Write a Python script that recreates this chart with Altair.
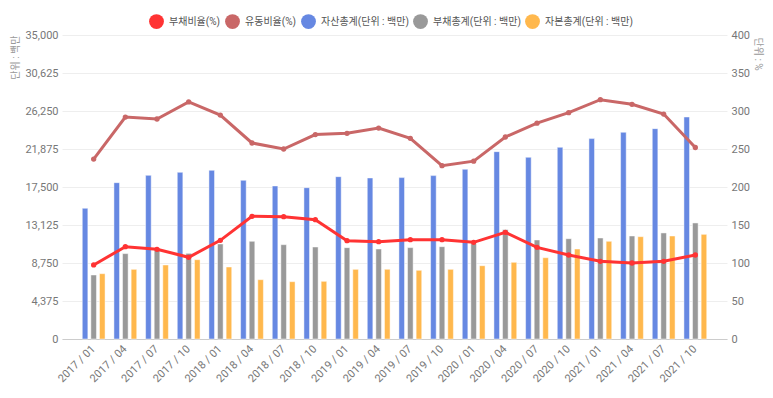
import altair as alt
import pandas as pd

periods = ["2017 / 01", "2017 / 04", "2017 / 07", "2017 / 10",
           "2018 / 01", "2018 / 04", "2018 / 07", "2018 / 10",
           "2019 / 01", "2019 / 04", "2019 / 07", "2019 / 10",
           "2020 / 01", "2020 / 04", "2020 / 07", "2020 / 10",
           "2021 / 01", "2021 / 04", "2021 / 07", "2021 / 10"]

assets = [15050, 18000, 18840, 19190, 19420, 18270, 17620, 17420, 18690, 18540,
          18580, 18810, 19540, 21570, 20920, 22070, 23070, 23800, 24220, 25560]
liabilities = [7370, 9830, 10210, 9860, 10940, 11250, 10860, 10590, 10520, 10360,
               10520, 10630, 10980, 12590, 11400, 11550, 11630, 11860, 12210, 13360]
equity = [7520, 8020, 8520, 9130, 8290, 6830, 6600, 6640, 8020, 8020,
          7910, 8020, 8440, 8830, 9360, 10360, 11250, 11780, 11860, 12050]

debt_ratio = [97.4, 121.5, 118, 107.5, 129.8, 161.4, 161, 157, 129.4, 128,
              130.7, 130.7, 127.2, 140.4, 120.6, 110.5, 102.2, 100, 102.2, 110.5]
current_ratio = [236.8, 292, 289.5, 312, 294.7, 257.9, 250, 269, 270.6, 277.6,
                 264, 228, 234, 265.8, 284, 297.8, 314.9, 308.8, 296, 252]

line_series = ["부채비율(%)", "유동비율(%)"]
bar_series = ["자산총계(단위 : 백만)", "부채총계(단위 : 백만)", "자본총계(단위 : 백만)"]
all_series = line_series + bar_series
colors = ["#ff3333", "#c96767", "#6688e2", "#999999", "#ffb84d"]

left_ticks = [0, 4375, 8750, 13125, 17500, 21875, 26250, 30625, 35000]
right_ticks = [0, 50, 100, 150, 200, 250, 300, 350, 400]

bar_rows = []
for name, vals in zip(bar_series, [assets, liabilities, equity]):
    for p, v in zip(periods, vals):
        bar_rows.append({"period": p, "series": name, "value": v})
bar_df = pd.DataFrame(bar_rows)

line_rows = []
for name, vals in zip(line_series, [debt_ratio, current_ratio]):
    for p, v in zip(periods, vals):
        line_rows.append({"period": p, "series": name, "value": v})
line_df = pd.DataFrame(line_rows)

color_scale = alt.Scale(domain=all_series, range=colors)
legend = alt.Legend(title=None, orient="none", direction="horizontal",
                    legendX=87, legendY=-21, symbolType="circle", symbolSize=220,
                    symbolStrokeWidth=0, symbolOpacity=1, labelFontSize=10,
                    labelColor="#555555", columnPadding=4, labelOffset=5,
                    values=all_series)

x_enc = alt.X("period:N", sort=periods,
              scale=alt.Scale(domain=periods, paddingInner=0.28, paddingOuter=0.64),
              axis=alt.Axis(title=None, labelAngle=-45, labelAlign="right",
                            labelBaseline="middle", labelFontSize=11,
                            labelColor="#777777", ticks=False, domainColor="#cccccc",
                            labelPadding=8, grid=False))

bars = alt.Chart(bar_df).mark_bar(stroke="white", strokeWidth=0.8, strokeOpacity=0.6).encode(
    x=x_enc,
    xOffset=alt.XOffset("series:N", sort=bar_series,
                        scale=alt.Scale(domain=bar_series, paddingInner=0.35, paddingOuter=0)),
    y=alt.Y("value:Q",
            scale=alt.Scale(domain=[0, 35000], nice=False),
            axis=alt.Axis(title="단위 : 백만", values=left_ticks, format=",d",
                          orient="left", ticks=False, domain=False,
                          gridColor="#eeeeee", labelFontSize=11, labelColor="#777777",
                          labelPadding=4,
                          titleFontSize=10, titleColor="#999999", titleFontWeight="normal",
                          titleAngle=-90, titleAlign="right", titleBaseline="middle",
                          titleX=-47, titleY=0)),
    color=alt.Color("series:N", scale=color_scale, legend=legend),
)

lines = alt.Chart(line_df).mark_line(
    strokeWidth=3, point=alt.OverlayMarkDef(size=28, filled=True, opacity=1)
).encode(
    x=alt.X("period:N", sort=periods),
    y=alt.Y("value:Q",
            scale=alt.Scale(domain=[0, 400], nice=False),
            axis=alt.Axis(title="단위 : %", values=right_ticks, orient="right",
                          ticks=False, domain=False, grid=False,
                          labelFontSize=11, labelColor="#777777", labelPadding=4,
                          titleFontSize=10, titleColor="#999999", titleFontWeight="normal",
                          titleAngle=90, titleAlign="left", titleBaseline="middle",
                          titleX=30, titleY=2)),
    color=alt.Color("series:N", scale=color_scale, legend=legend),
)

chart = alt.layer(bars, lines).resolve_scale(y="independent").properties(
    width=665, height=304,
    autosize=alt.AutoSizeParams(type="none"),
    padding={"left": 54, "top": 27, "right": 38, "bottom": 51},
).configure(
    font="Roboto, 'Noto Sans CJK KR', sans-serif",
).configure_view(stroke=None)

chart.save("out.html", embed_options={"renderer": "svg", "actions": False})
